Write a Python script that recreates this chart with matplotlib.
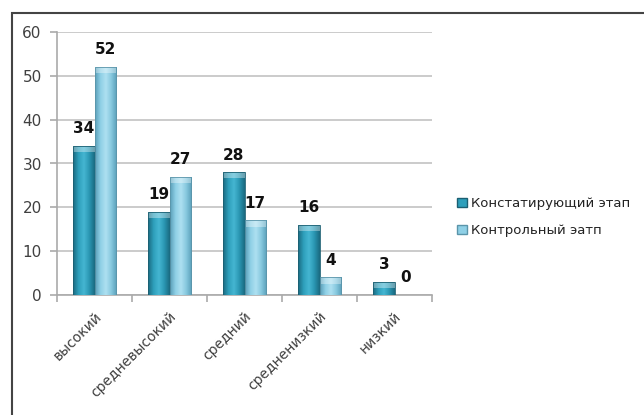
import matplotlib.pyplot as plt
import numpy as np
from matplotlib.colors import LinearSegmentedColormap
from matplotlib.patches import Rectangle

categories = ["высокий", "средневысокий", "средний", "средненизкий", "низкий"]
stage_1 = [34, 19, 28, 16, 3]
stage_2 = [52, 27, 17, 4, 0]
series_names = ["Констатирующий этап", "Контрольный эатп"]
y_ticks = [0, 10, 20, 30, 40, 50, 60]

dark_cmap = LinearSegmentedColormap.from_list(
    "dark", ["#1a6a80", "#2e9fbb", "#45b6d2", "#2a96b2", "#1a6a80"])
light_cmap = LinearSegmentedColormap.from_list(
    "light", ["#5a9fb8", "#8fd0e6", "#aee0f1", "#86c8de", "#5a9fb8"])


def gradient_bars(ax, bars, cmap, edge):
    grad = np.linspace(0, 1, 64).reshape(1, -1)
    for b in bars:
        x, y = b.get_x(), b.get_y()
        w, h = b.get_width(), b.get_height()
        if h <= 0:
            continue
        im = ax.imshow(grad, cmap=cmap, aspect="auto",
                       extent=[x, x + w, y, y + h], zorder=3)
        im.set_clip_path(b)
        # светлая «крышка» сверху столбика
        ax.add_patch(Rectangle((x, y + h - 1.4), w, 1.4, facecolor="white",
                               alpha=0.35, edgecolor="none", zorder=4))
        b.set_facecolor("none")
        b.set_edgecolor(edge)
        b.set_linewidth(0.6)
        b.set_zorder(5)


fig = plt.figure(figsize=(6.44, 4.15), dpi=100)
ax = fig.add_axes([57 / 644, 120 / 415, 375 / 644, 263 / 415])

x = np.arange(len(categories))
w = 0.285
b1 = ax.bar(x - w / 2, stage_1, w, color="#2e9fbb", zorder=3)
b2 = ax.bar(x + w / 2, stage_2, w, color="#8fd0e6", zorder=3)
gradient_bars(ax, b1, dark_cmap, "#1b5f72")
gradient_bars(ax, b2, light_cmap, "#5b95aa")

for bars, vals in ((b1, stage_1), (b2, stage_2)):
    for b, v in zip(bars, vals):
        ax.annotate(str(v), (b.get_x() + b.get_width() / 2, v),
                    xytext=(0, 7), textcoords="offset points",
                    ha="center", va="bottom", fontsize=11,
                    fontweight="bold", color="#111111", zorder=6)

ax.set_xlim(-0.5, len(categories) - 0.5)
ax.set_ylim(0, 60)
ax.set_yticks(y_ticks)
ax.yaxis.grid(True, color="#c2c2c2", linewidth=1.2, zorder=0)
ax.set_axisbelow(True)

ax.set_xticks(np.arange(len(categories) + 1) - 0.5, minor=False)
ax.set_xticklabels([])
ax.set_xticks(x, minor=True)
ax.set_xticklabels(categories, minor=True, rotation=45, ha="right",
                   rotation_mode="anchor", fontsize=10, color="#404040")
ax.tick_params(axis="x", which="major", direction="out", length=5,
               color="#aaaaaa", width=1.2)
ax.tick_params(axis="x", which="minor", length=0, pad=10)
ax.tick_params(axis="y", direction="out", length=5, color="#aaaaaa",
               width=1.2, labelsize=11, labelcolor="#404040", pad=6)

for side in ("top", "right"):
    ax.spines[side].set_visible(False)
for side in ("left", "bottom"):
    ax.spines[side].set_color("#aaaaaa")
    ax.spines[side].set_linewidth(1.2)

# легенда
handles = [Rectangle((0, 0), 1, 1, facecolor="#2e9fbb", edgecolor="#1b5f72"),
           Rectangle((0, 0), 1, 1, facecolor="#8fd0e6", edgecolor="#5b95aa")]
fig.legend(handles, series_names, loc="center left",
           bbox_to_anchor=(452 / 644, 1 - 217 / 415), frameon=False,
           fontsize=9.5, handlelength=0.7, handleheight=0.7,
           handletextpad=0.35, labelspacing=1.1, labelcolor="#222222",
           borderaxespad=0)

# рамка вокруг диаграммы
fig.add_artist(Rectangle((11.5 / 644, -0.05), 1.1, 1 - 13 / 415 + 0.05,
                         transform=fig.transFigure, fill=False,
                         edgecolor="#444444", linewidth=1.5))

fig.savefig("out.png", dpi=100)
plt.close(fig)
